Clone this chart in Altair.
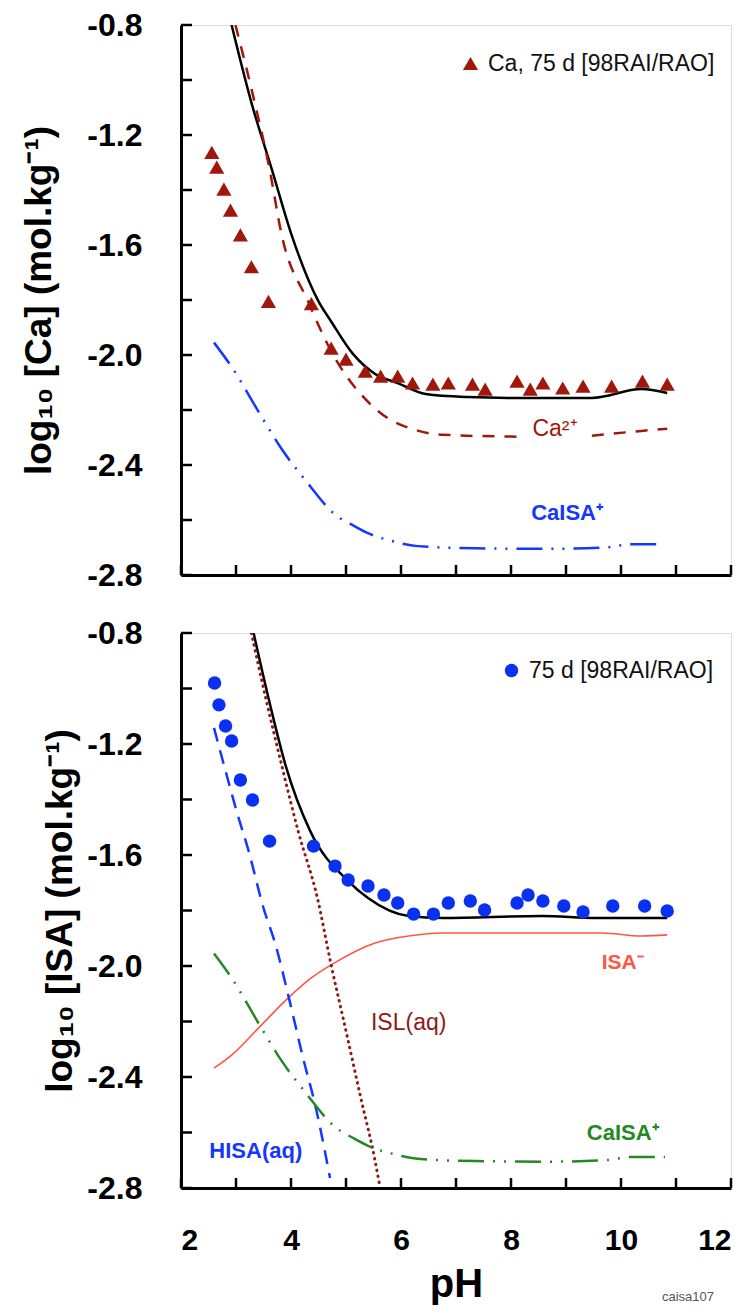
import altair as alt
import pandas as pd

FONT = "Liberation Sans"

# ---------------- top panel: log10 [Ca] ----------------
ca_obs_ph = [2.56, 2.65, 2.78, 2.90, 3.08, 3.28, 3.59, 4.37, 4.73, 5.00, 5.35, 5.63, 5.94,
             6.21, 6.58, 6.86, 7.30, 7.53, 8.11, 8.35, 8.58, 8.94, 9.31, 9.83, 10.39, 10.84]
ca_obs = [-1.263, -1.317, -1.397, -1.473, -1.563, -1.679, -1.805, -1.813, -1.975, -2.015,
          -2.059, -2.077, -2.077, -2.102, -2.106, -2.102, -2.106, -2.124, -2.095, -2.124,
          -2.102, -2.120, -2.113, -2.113, -2.095, -2.106]

ca_tot_ph = [2.92, 3.28, 3.65, 4.01, 4.50, 4.73, 5.13, 5.53, 5.94, 6.45, 7.21, 7.95, 9.47, 10.37, 10.84]
ca_tot = [-0.80, -1.082, -1.324, -1.563, -1.805, -1.878, -1.997, -2.069, -2.102, -2.142,
          -2.153, -2.156, -2.156, -2.124, -2.138]

ca2_ph = [2.99, 3.34, 3.61, 3.83, 4.31, 4.73, 5.53, 6.32, 6.76, 8.13, 9.47, 10.37, 10.84]
ca2 = [-0.80, -1.082, -1.324, -1.563, -1.805, -1.986, -2.195, -2.276, -2.290,
       -2.297, -2.294, -2.276, -2.268]
ca2_seg = [0, 0, 0, 0, 0, 0, 0, 0, 0, 0, 1, 1, 1]

caisa_ph = [2.60, 2.92, 3.46, 3.83, 4.26, 4.80, 5.16, 5.40, 5.85, 6.30, 7.35, 8.70, 9.76, 10.19, 10.80]
caisa = [-1.955, -2.043, -2.223, -2.342, -2.455, -2.580, -2.623, -2.648, -2.677, -2.695,
         -2.703, -2.705, -2.699, -2.688, -2.688]

# ---------------- bottom panel: log10 [ISA] ----------------
isa_obs_ph = [2.61, 2.69, 2.81, 2.92, 3.08, 3.30, 3.61, 4.41, 4.80, 5.04, 5.40, 5.69, 5.94,
              6.23, 6.59, 6.86, 7.26, 7.52, 8.11, 8.31, 8.58, 8.96, 9.31, 9.85, 10.43, 10.84]
isa_obs = [-0.980, -1.059, -1.135, -1.189, -1.330, -1.402, -1.550, -1.568, -1.640, -1.690,
           -1.712, -1.744, -1.773, -1.813, -1.813, -1.773, -1.766, -1.798, -1.773, -1.744,
           -1.766, -1.784, -1.805, -1.784, -1.784, -1.802]

isa_tot_ph = [3.32, 3.59, 3.90, 4.35, 5.04, 5.40, 6.14, 6.76, 8.56, 9.56, 10.84]
isa_tot = [-0.80, -1.034, -1.276, -1.514, -1.694, -1.755, -1.820, -1.827, -1.820, -1.827, -1.827]

isa_m_ph = [2.60, 2.92, 3.46, 3.95, 4.37, 4.73, 5.53, 6.14, 6.76, 9.65, 10.37, 10.84]
isa_m = [-2.368, -2.321, -2.213, -2.115, -2.043, -1.996, -1.917, -1.892, -1.881, -1.881, -1.892, -1.888]

hisa_ph = [2.60, 2.81, 3.01, 3.23, 3.50, 3.72, 3.95, 4.22, 4.44, 4.71]
hisa = [-1.142, -1.297, -1.441, -1.586, -1.791, -1.924, -2.105, -2.332, -2.501, -2.764]

isl_ph = [3.28, 3.54, 3.83, 4.13, 4.48, 4.73, 5.00, 5.27, 5.53, 5.62]
isl = [-0.80, -1.034, -1.276, -1.514, -1.755, -1.996, -2.234, -2.476, -2.703, -2.80]

# annotation labels (text, pH, value)
top_labels = [("Ca²⁺", 8.80, -2.268), ("CaISA⁺", 9.02, -2.576)]
bot_labels = [("ISA⁻", 10.03, -1.989), ("ISL(aq)", 6.14, -2.205),
              ("HISA(aq)", 3.36, -2.667), ("CaISA⁺", 10.03, -2.602)]

y_label_vals = [-2.8, -2.4, -2.0, -1.6, -1.2, -0.8]
y_tick_vals = [-2.8, -2.6, -2.4, -2.2, -2.0, -1.8, -1.6, -1.4, -1.2, -1.0, -0.8]
x_tick_vals = [2, 3, 4, 5, 6, 7, 8, 9, 10, 11, 12]
x_label_vals = [2, 4, 6, 8, 10, 12]

W = 550
H_TOP = 550
H_BOT = 555

xs = alt.Scale(domain=[2, 12], nice=False, zero=False)
ys = alt.Scale(domain=[-2.8, -0.8], nice=False, zero=False)


def y_axis(title, tpad):
    return alt.Axis(values=y_label_vals, format=".1f",
                    labelExpr="replace(datum.label, '\u2212', '-')",
                    ticks=False, grid=False, labelPadding=39,
                    labelFont=FONT, labelFontSize=32, labelFontWeight="bold", labelColor="black",
                    domainColor="black", domainWidth=3,
                    title=title, titleFont=FONT, titleFontSize=37, titleFontWeight="bold",
                    titleColor="black", titlePadding=tpad)


x_axis_top = alt.Axis(labels=False, ticks=False, grid=False, title=None,
                      domainColor="black", domainWidth=3)
x_axis_bot = alt.Axis(values=x_label_vals, ticks=False, grid=False, labelPadding=37,
                      labelFont=FONT, labelFontSize=30, labelFontWeight="bold", labelColor="black",
                      domainColor="black", domainWidth=3,
                      title="pH", titleFont=FONT, titleFontSize=40, titleFontWeight="bold",
                      titleColor="black", titlePadding=9)


def panel(xaxis, yaxis, height, lines, obs, legend_label, legend_color, shape, msize,
          leg_x, leg_y, labels, extra=None):
    X = alt.X("pH:Q", scale=xs, axis=xaxis)
    Y = alt.Y("val:Q", scale=ys, axis=yaxis)
    layers = []
    for ph, val, color, width, dash, seg in lines:
        df = pd.DataFrame({"pH": ph, "val": val})
        kw = dict(color=color, strokeWidth=width, interpolate="monotone", clip=True)
        if dash:
            kw["strokeDash"] = dash
            if dash[0] < 1:
                kw["strokeCap"] = "round"
        enc = dict(x=X, y=Y)
        if seg is not None:
            df["seg"] = seg
            enc["detail"] = "seg:N"
        layers.append(alt.Chart(df).mark_line(**kw).encode(**enc))
    ph, val = obs
    dfo = pd.DataFrame({"pH": ph, "val": val, "series": [legend_label] * len(ph)})
    layers.append(
        alt.Chart(dfo).mark_point(shape=shape, filled=True, size=msize, opacity=1).encode(
            x=X, y=Y,
            color=alt.Color("series:N",
                            scale=alt.Scale(domain=[legend_label], range=[legend_color]),
                            legend=alt.Legend(orient="none", legendX=leg_x, legendY=leg_y,
                                              title=None, padding=0, labelFont=FONT,
                                              labelFontSize=23, labelColor="#111",
                                              labelLimit=500, labelOffset=6,
                                              symbolType=shape, symbolSize=msize,
                                              symbolOpacity=1, symbolStrokeWidth=0))))
    for text, lx, ly, color, weight, fsize in labels:
        dft = pd.DataFrame({"pH": [lx], "val": [ly], "t": [text]})
        layers.append(alt.Chart(dft).mark_text(font=FONT, fontSize=fsize, fontWeight=weight,
                                               color=color).encode(x=X, y=Y, text="t:N"))
    # inward ticks
    dyt = pd.DataFrame({"val": y_tick_vals})
    layers.append(alt.Chart(dyt).mark_rule(color="black", strokeWidth=2.5).encode(
        y=Y, x=alt.value(0), x2=alt.value(11)))
    dxt = pd.DataFrame({"pH": x_tick_vals})
    layers.append(alt.Chart(dxt).mark_rule(color="black", strokeWidth=2.5).encode(
        x=X, y=alt.value(height), y2=alt.value(height - 10)))
    if extra is not None:
        layers.append(extra)
    return alt.layer(*layers).properties(width=W, height=height)


DARKRED = "#a0170c"
BLUE = "#1537ff"
GREEN = "#238a23"
SALMON = "#ff5544"
DOTRED = "#8e1a16"
DASHDOT = [26, 9, 2, 9, 2, 9]

top = panel(
    x_axis_top, y_axis("log₁₀ [Ca] (mol.kg⁻¹)", 28), H_TOP,
    [
        (ca_tot_ph, ca_tot, "black", 2.5, None, None),
        (ca2_ph, ca2, DARKRED, 2.5, [12, 10], ca2_seg),
        (caisa_ph, caisa, BLUE, 2.5, DASHDOT, None),
    ],
    (ca_obs_ph, ca_obs), "Ca, 75 d [98RAI/RAO]", DARKRED, "triangle-up", 230, 278, 27,
    [(top_labels[0][0], top_labels[0][1], top_labels[0][2], DARKRED, "normal", 23),
     (top_labels[1][0], top_labels[1][1], top_labels[1][2], BLUE, "bold", 22)],
)

footer = alt.Chart(pd.DataFrame({"t": ["caisa107"]})).mark_text(
    font=FONT, fontSize=13, color="#555", align="center").encode(
    x=alt.value(507), y=alt.value(664), text="t:N")

bottom = panel(
    x_axis_bot, y_axis("log₁₀ [ISA] (mol.kg⁻¹)", 7), H_BOT,
    [
        (isa_tot_ph, isa_tot, "black", 2.5, None, None),
        (isa_m_ph, isa_m, SALMON, 1.6, None, None),
        (hisa_ph, hisa, BLUE, 2.5, [14, 9], None),
        (isl_ph, isl, DOTRED, 3, [0.5, 5.5], None),
        (caisa_ph, caisa, GREEN, 2.5, DASHDOT, None),
    ],
    (isa_obs_ph, isa_obs), "75 d  [98RAI/RAO]", "#0a30f0", "circle", 180, 319, 26,
    [(bot_labels[0][0], bot_labels[0][1], bot_labels[0][2], SALMON, "bold", 21),
     (bot_labels[1][0], bot_labels[1][1], bot_labels[1][2], DOTRED, "normal", 23),
     (bot_labels[2][0], bot_labels[2][1], bot_labels[2][2], BLUE, "bold", 22),
     (bot_labels[3][0], bot_labels[3][1], bot_labels[3][2], GREEN, "bold", 22)],
    extra=footer,
)

chart = alt.vconcat(top, bottom, spacing=24).resolve_scale(color="independent").properties(
    padding={"left": 12, "top": 0, "right": 0, "bottom": 0}
).configure_view(stroke="#555", strokeWidth=1.5).configure(background="white")

chart.save("out.html", embed_options={"renderer": "svg", "actions": False})
